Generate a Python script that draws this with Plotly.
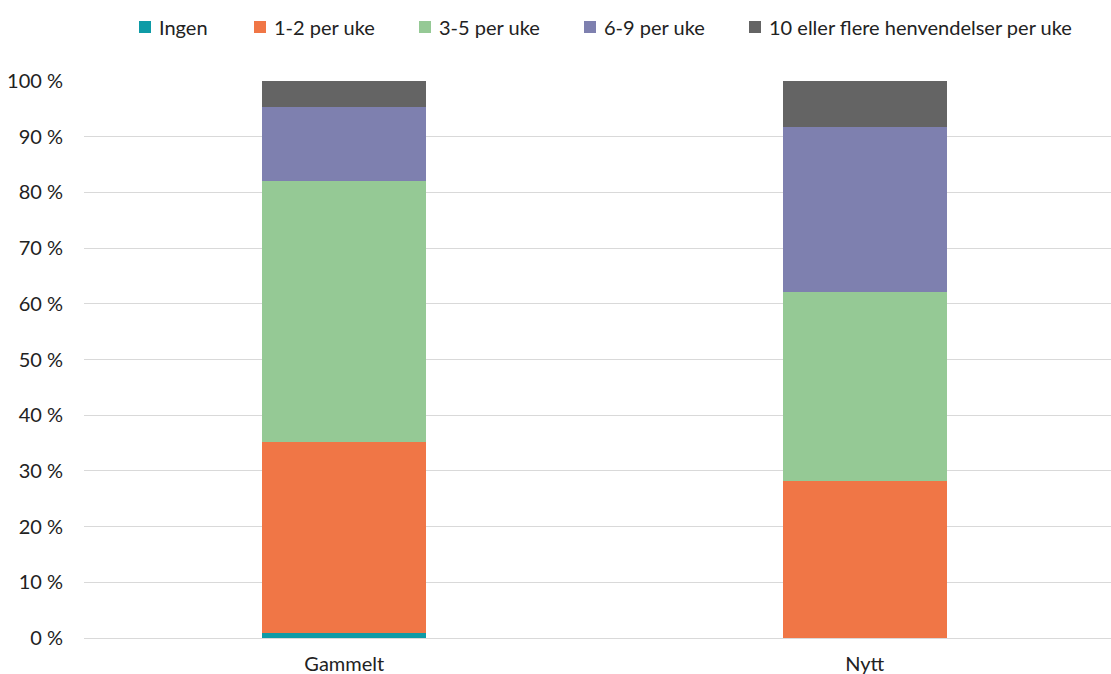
import plotly.graph_objects as go

# Share of respondents (%) by weekly number of requests, old vs new system
categories = ["Gammelt", "Nytt"]
series_names = [
    "Ingen",
    "1-2 per uke",
    "3-5 per uke",
    "6-9 per uke",
    "10 eller flere henvendelser per uke",
]
ingen = [0.9, 0.0]
per_uke_1_2 = [34.2, 28.1]
per_uke_3_5 = [47.0, 34.0]
per_uke_6_9 = [13.3, 29.6]
per_uke_10_pluss = [4.6, 8.3]
y_ticks = [0, 10, 20, 30, 40, 50, 60, 70, 80, 90, 100]

series_values = [ingen, per_uke_1_2, per_uke_3_5, per_uke_6_9, per_uke_10_pluss]
colors = ["#0E9BA6", "#F07646", "#95C995", "#7E80AF", "#646464"]

W, H = 1111, 674
M_L, M_R, M_T, M_B = 84, 0, 81, 36
FONT = "Lato, 'Open Sans', sans-serif"
FS = 20
TEXT = "#222222"

fig = go.Figure()
for name, vals, col in zip(series_names, series_values, colors):
    fig.add_trace(go.Bar(
        x=categories, y=vals, name=name,
        marker=dict(color=col, line=dict(width=0)),
        width=0.315, showlegend=False,
        hovertemplate="%{x}: %{y:.1f} %<extra>" + name + "</extra>",
    ))

# Legend row drawn across the top as swatches + labels (pixel positions)
plot_w = W - M_L - M_R
plot_h = H - M_T - M_B
sw_left = [139, 254, 419, 584, 749]
txt_left = [157, 272, 437, 602, 767]
sw_size = 12
leg_cy = 27

def px_x(p):
    return (p - M_L) / plot_w

def px_y(p):
    return (H - M_B - p) / plot_h

shapes = []
annotations = []
for name, col, sx, tx in zip(series_names, colors, sw_left, txt_left):
    shapes.append(dict(
        type="rect", xref="paper", yref="paper",
        x0=px_x(sx), x1=px_x(sx + sw_size),
        y0=px_y(leg_cy + sw_size / 2), y1=px_y(leg_cy - sw_size / 2),
        fillcolor=col, line=dict(width=0),
    ))
    annotations.append(dict(
        xref="paper", yref="paper", x=px_x(tx), y=px_y(leg_cy),
        xanchor="left", yanchor="middle", text=name, showarrow=False,
        font=dict(family=FONT, size=FS, color=TEXT),
    ))

fig.update_layout(
    width=W, height=H,
    margin=dict(l=M_L, r=M_R, t=M_T, b=M_B),
    barmode="stack",
    plot_bgcolor="white", paper_bgcolor="white",
    font=dict(family=FONT, size=FS, color=TEXT),
    showlegend=False,
    shapes=shapes,
    annotations=annotations,
    xaxis=dict(
        range=[-0.5, -0.5 + plot_w / 520.5],
        showgrid=False, zeroline=False, showline=False,
        ticks="", ticklabelstandoff=12,
        tickfont=dict(family=FONT, size=FS, color=TEXT),
    ),
    yaxis=dict(
        range=[0, 100], tickmode="array", tickvals=y_ticks,
        ticktext=[f"{v} %" for v in y_ticks],
        showgrid=True, gridcolor="#D9D9D9", gridwidth=1,
        zeroline=True, zerolinecolor="#D9D9D9", zerolinewidth=1,
        showline=False, ticks="", ticklabelstandoff=20,
        tickfont=dict(family=FONT, size=FS, color=TEXT),
    ),
)

fig.write_html("out.html")
